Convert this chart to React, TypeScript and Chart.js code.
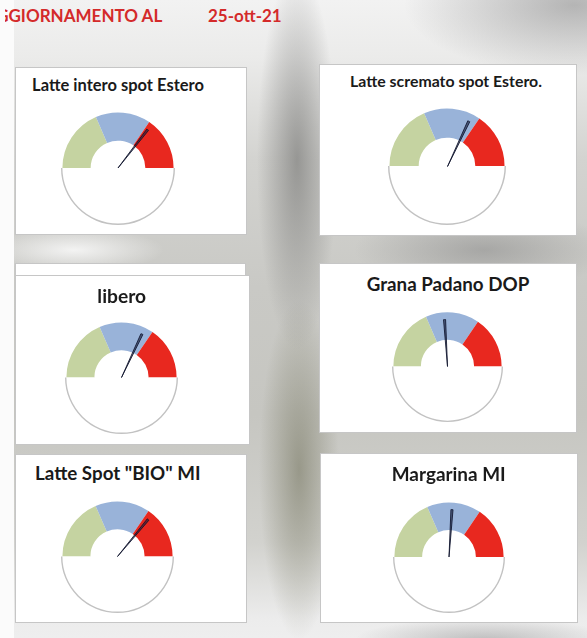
import React, { useEffect, useRef } from "react";
import { Chart, registerables } from "chart.js";

Chart.register(...registerables);

// ---- data ----
const headerLabel = "AGGIORNAMENTO AL";
const headerDate = "25-ott-21";
const gaugeTitles = [
  "Latte intero spot Estero",
  "Latte scremato spot Estero.",
  "libero",
  "Grana Padano DOP",
  'Latte Spot "BIO" MI',
  "Margarina MI",
];
const bandLabels = ["basso", "medio", "alto", ""];
const bandValues = [37, 32, 31]; // share of the half dial (sums to 100)
const needleValues = [71, 64, 64, 48, 72, 52]; // position on the dial, 0..100
const needleWidth = 1.4;

// ---- styles / layout ----
const bandColors = ["#c5d3a1", "#99b3d9", "#e8281f"];
const FONT = "Lato, 'Open Sans', sans-serif";

const panelLayout = [
  { x: 15, y: 67, w: 232, h: 168, cx: 117.5, cy: 168, r: 55.5, tx: 118, tb: 91.7, tw: 172 },
  { x: 319, y: 64, w: 258, h: 172, cx: 447, cy: 166, r: 57.5, tx: 446, tb: 87.3, tw: 192 },
  { x: 15, y: 275, w: 235, h: 170, cx: 121.7, cy: 377.3, r: 55, tx: 121.7, tb: 302.7, tw: 48.7 },
  { x: 319, y: 263, w: 258, h: 170, cx: 447.5, cy: 366.7, r: 54, tx: 448, tb: 291.7, tw: 162.6 },
  { x: 15, y: 454, w: 232, h: 169, cx: 117.7, cy: 556.7, r: 55, tx: 117.8, tb: 480.7, tw: 165.7 },
  { x: 320, y: 453, w: 258, h: 170, cx: 448.7, cy: 557.3, r: 54.5, tx: 448.7, tb: 481.7, tw: 114 },
];

let measureCtx: CanvasRenderingContext2D | null = null;
function textWidth(text: string, size: number): number {
  if (!measureCtx) measureCtx = document.createElement("canvas").getContext("2d");
  measureCtx!.font = `bold ${size}px ${FONT}`;
  return measureCtx!.measureText(text).width;
}
function fitSize(text: string, target: number): number {
  return (100 * target) / textWidth(text, 100);
}

function Label({ text, left, baseline, size, color, center }: any) {
  return (
    <div
      style={{
        position: "absolute",
        left: center ? left - textWidth(text, size) / 2 : left,
        top: baseline - 0.887 * size,
        fontFamily: FONT,
        fontWeight: 700,
        fontSize: size,
        lineHeight: `${size}px`,
        whiteSpace: "nowrap",
        color,
      }}
    >
      {text}
    </div>
  );
}

function Gauge({ idx }: { idx: number }) {
  const p = panelLayout[idx];
  const dialRef = useRef<HTMLCanvasElement>(null);
  const needleRef = useRef<HTMLCanvasElement>(null);
  const outline = 1.4;
  const Rc = p.r + outline;
  const dialSize = Math.round(2 * Rc);
  const Rn = p.r * 0.88;
  const needleSize = Math.round(2 * Rn);

  useEffect(() => {
    const half = bandValues.reduce((a, b) => a + b, 0);
    const dial = new Chart(dialRef.current!, {
      type: "doughnut",
      data: {
        labels: bandLabels,
        datasets: [
          {
            data: [...bandValues, half],
            backgroundColor: ["rgba(0,0,0,0)", "rgba(0,0,0,0)", "rgba(0,0,0,0)", "#c2c2c2"],
            borderWidth: 0,
            weight: 0.05,
          },
          {
            data: [...bandValues, half],
            backgroundColor: [...bandColors, "#ffffff"],
            borderWidth: 0,
            weight: 1,
          },
        ],
      },
      options: {
        responsive: false,
        animation: false,
        rotation: -90,
        circumference: 360,
        cutout: "48%",
        events: [],
        layout: { padding: 0 },
        plugins: { legend: { display: false }, tooltip: { enabled: false } },
      },
    });
    const v = needleValues[idx];
    const needle = new Chart(needleRef.current!, {
      type: "pie",
      data: {
        labels: ["", "lancetta", ""],
        datasets: [
          {
            data: [v - needleWidth / 2, needleWidth, 2 * half - v - needleWidth / 2],
            backgroundColor: ["rgba(0,0,0,0)", "rgba(20,28,60,0.6)", "rgba(0,0,0,0)"],
            borderColor: ["rgba(0,0,0,0)", "rgba(15,20,45,0.85)", "rgba(0,0,0,0)"],
            borderWidth: [0, 1, 0],
          },
        ],
      },
      options: {
        responsive: false,
        animation: false,
        rotation: -90,
        circumference: 360,
        events: [],
        layout: { padding: 0 },
        plugins: { legend: { display: false }, tooltip: { enabled: false } },
      },
    });
    return () => {
      dial.destroy();
      needle.destroy();
    };
  }, []);

  const title = gaugeTitles[idx];
  const fs = fitSize(title, p.tw);
  return (
    <>
      <div
        style={{
          position: "absolute",
          left: p.x,
          top: p.y,
          width: p.w,
          height: p.h,
          background: "#ffffff",
          border: "1px solid #c6c6c6",
          boxSizing: "border-box",
        }}
      />
      <Label text={title} left={p.tx} baseline={p.tb} size={fs} color="#1a1a1a" center />
      <canvas
        ref={dialRef}
        width={dialSize}
        height={dialSize}
        style={{ position: "absolute", left: p.cx - dialSize / 2, top: p.cy - dialSize / 2, width: dialSize, height: dialSize }}
      />
      <canvas
        ref={needleRef}
        width={needleSize}
        height={needleSize}
        style={{ position: "absolute", left: p.cx - needleSize / 2, top: p.cy - needleSize / 2, width: needleSize, height: needleSize }}
      />
    </>
  );
}

export default function App() {
  const hfs = fitSize("GIORNAMENTO AL", 154.5);
  const agW = textWidth("AG", hfs);
  const bg = [
    "radial-gradient(ellipse 170px 70px at 560px 5px, rgba(140,140,140,0.6), rgba(140,140,140,0) 100%)",
    "radial-gradient(ellipse 40px 190px at 283px 160px, rgba(110,110,108,0.6), rgba(110,110,108,0) 100%)",
    "radial-gradient(ellipse 40px 170px at 285px 470px, rgba(125,125,105,0.65), rgba(125,125,105,0) 100%)",
    "radial-gradient(ellipse 130px 40px at 470px 250px, rgba(130,130,130,0.5), rgba(130,130,130,0) 100%)",
    "radial-gradient(ellipse 90px 22px at 60px 250px, rgba(250,250,250,0.85), rgba(250,250,250,0) 100%)",
    "radial-gradient(ellipse 130px 22px at 470px 640px, rgba(150,150,150,0.55), rgba(150,150,150,0) 100%)",
    "linear-gradient(180deg, #f2f2f2 0%, #ebebea 9%, #d3d3d0 25%, #c9c9c5 45%, #c6c6c1 65%, #d2d2ce 85%, #ececec 97%, #eeeeee 100%)",
  ].join(", ");
  return (
    <div
      style={{
        position: "fixed",
        left: 0,
        top: 0,
        width: 587,
        height: 638,
        background: "#fbfbfb",
        overflow: "hidden",
      }}
    >
      <div style={{ position: "absolute", left: 14, top: 0, width: 573, height: 638, background: bg }} />
      <div style={{ position: "absolute", left: 5, top: 0, width: 320, height: 40, overflow: "hidden" }}>
        <Label text={headerLabel} left={3.5 - agW} baseline={21.7} size={hfs} color="#d42a2a" />
        <Label text={headerDate} left={203} baseline={21.7} size={hfs} color="#d42a2a" />
      </div>
      <div
        style={{
          position: "absolute",
          left: 15,
          top: 263,
          width: 231,
          height: 13,
          background: "#ffffff",
          border: "1px solid #c6c6c6",
          boxSizing: "border-box",
        }}
      />
      {gaugeTitles.map((_, i) => (
        <Gauge key={i} idx={i} />
      ))}
    </div>
  );
}
